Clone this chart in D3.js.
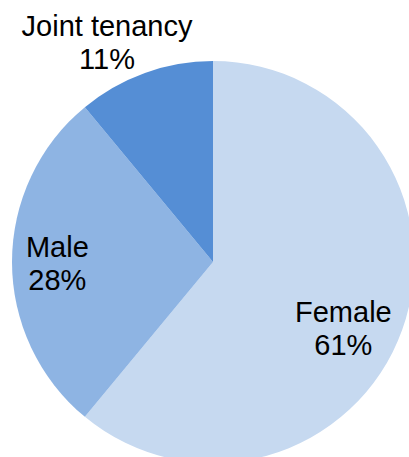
<!DOCTYPE html>
<html>
<head>
<meta charset="utf-8">
<script src="https://cdn.jsdelivr.net/npm/d3@7"></script>
<style>
  html, body { margin: 0; padding: 0; background: #fff; overflow: hidden; }
  text { font-family: "Liberation Sans", Arial, sans-serif; fill: #000; }
</style>
</head>
<body>
<div id="chart"></div>
<script>
// Chart data
const categories = ["Female", "Male", "Joint tenancy"];
const shares = [61, 28, 11];
const colors = ["#c6d9f0", "#8eb4e3", "#558ed5"];

// Layout
const WIDTH = 409;
const HEIGHT = 457;
const CX = 213;
const CY = 262;
const RADIUS = 201;
// label position (radius, angle in degrees clockwise from 12 o'clock)
const labelR = [151, 156, 235];
const labelA = [120.3, 266.1, 333.2];

let svg = d3.select("#chart").append("svg")
  .attr("width", WIDTH)
  .attr("height", HEIGHT);

let g = svg.append("g").attr("transform", "translate(" + CX + "," + CY + ")");

let pie = d3.pie().sort(null).value(d => d.value);
let arc = d3.arc().innerRadius(0).outerRadius(RADIUS);

let data = categories.map((c, i) => ({ name: c, value: shares[i], color: colors[i], i: i }));

g.selectAll("path")
  .data(pie(data))
  .enter()
  .append("path")
  .attr("d", arc)
  .attr("fill", d => d.data.color);

let labels = g.selectAll("text.lbl")
  .data(data)
  .enter()
  .append("text")
  .attr("class", "lbl")
  .attr("text-anchor", "middle")
  .style("font-size", "29px")
  .attr("transform", d => {
    let a = labelA[d.i] * Math.PI / 180;
    return "translate(" + (labelR[d.i] * Math.sin(a)) + "," + (-labelR[d.i] * Math.cos(a)) + ")";
  });

labels.append("tspan").attr("x", 0).attr("y", -16).text(d => d.name);
labels.append("tspan").attr("x", 0).attr("y", 17).text(d => d.value + "%");
</script>
</body>
</html>
